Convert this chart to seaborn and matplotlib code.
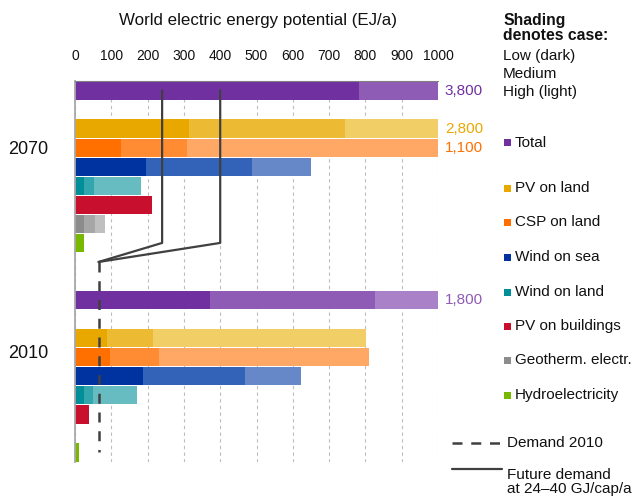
import numpy as np
import pandas as pd
import matplotlib
matplotlib.use("Agg")
import matplotlib.pyplot as plt
import seaborn as sns
from matplotlib.patches import Rectangle
from matplotlib.lines import Line2D

# ---------------- data ----------------
sources = ["Total", "PV on land", "CSP on land", "Wind on sea", "Wind on land",
           "PV on buildings", "Geotherm. electr.", "Hydroelectricity"]
years = ["2070", "2010"]

low_2070 = [782, 315, 128, 195, 25, 211, 25, 25]
medium_2070 = [1900, 745, 308, 487, 52, 211, 55, 25]
high_2070 = [3800, 2800, 1100, 650, 183, 211, 83, 25]

low_2010 = [372, 88, 96, 186, 25, 38, 0, 10]
medium_2010 = [826, 214, 231, 468, 49, 38, 0, 10]
high_2010 = [1800, 803, 809, 623, 170, 38, 0, 10]

demand_2010 = 65
future_demand = [240, 400]

shade_title = "Shading\ndenotes case:"
shade_labels = ["Low (dark)", "Medium", "High (light)"]
line_labels = ["Demand 2010", "Future demand\nat 24\u201340 GJ/cap/a"]
axis_title = "World electric energy potential (EJ/a)"
x_ticks = [0, 100, 200, 300, 400, 500, 600, 700, 800, 900, 1000]

colors_dark = ["#7030A0", "#E8A800", "#FF7000", "#0033A0", "#008F98", "#C8102E", "#8C8C8C", "#78B800"]
colors_mid = ["#8E5BB5", "#EDBB33", "#FF8C33", "#3363B8", "#33A6AD", "#C8102E", "#A6A6A6", "#78B800"]
colors_light = ["#A981C8", "#F2CF66", "#FFA866", "#6688C8", "#66BCC1", "#C8102E", "#BFBFBF", "#78B800"]

# ---------------- build table ----------------
order = []
records = []
group_data = {"2070": (low_2070, medium_2070, high_2070),
              "2010": (low_2010, medium_2010, high_2010)}
for gi, yr in enumerate(years):
    lo, me, hi = group_data[yr]
    for i, s in enumerate(sources):
        key = f"{yr} {s}"
        order.append(key)
        records.append({"row": key, "year": yr, "source": s,
                        "low": lo[i], "medium": me[i], "high": hi[i]})
        if i == 0:
            order.append(f"{yr} gap")
    if gi == 0:
        order += ["between gap 1", "between gap 2"]
df = pd.DataFrame(records)

sns.set_theme(style="white")
plt.rcParams['font.family'] = ['Liberation Sans', 'DejaVu Sans']

fig = plt.figure(figsize=(6.36, 5.0), dpi=100)
ax = fig.add_axes([75 / 636, 1 - 462 / 500, (438 - 75) / 636, (462 - 81) / 500])

for layer, cols in [("high", colors_light), ("medium", colors_mid), ("low", colors_dark)]:
    pal = dict(zip(sources, cols))
    sns.barplot(data=df, x=layer, y="row", hue="source", palette=pal, order=order,
                hue_order=sources, dodge=False, width=0.96, orient="h", errorbar=None,
                legend=False, saturation=1, linewidth=0, ax=ax)

ax.set_xlim(0, 1000)
ax.set_ylim(len(order) - 0.5, -0.5)
ax.set_yticks([])
ax.set_ylabel("")
ax.set_xlabel("")
ax.xaxis.tick_top()
ax.set_xticks(x_ticks)
ax.set_xticklabels([str(t) for t in x_ticks])
ax.tick_params(axis="x", length=0, pad=13, labelsize=10, colors="#111111")
ax.xaxis.grid(True, linestyle=(0, (3, 3)), color="#BDBDBD", linewidth=0.8)
ax.set_axisbelow(True)
for sp in ["right", "bottom"]:
    ax.spines[sp].set_visible(False)
ax.spines["left"].set_color("#A8A8A8")
ax.spines["left"].set_linewidth(1.3)
ax.spines["top"].set_color("#808080")
ax.spines["top"].set_linewidth(0.8)

# values exceeding the axis
for _, r in df.iterrows():
    if r["high"] > 1000:
        y = order.index(r["row"])
        col = colors_dark[sources.index(r["source"])]
        if r["year"] == "2010":
            col = colors_mid[sources.index(r["source"])]
        ax.annotate(f"{r['high']:,}", xy=(1000, y), xytext=(5, 0), textcoords="offset points",
                    ha="left", va="center", fontsize=11, color=col, annotation_clip=False)

# demand lines
y_gap = order.index("between gap 1")
y_hydro_2070 = order.index("2070 Hydroelectricity")
y_total_2070 = order.index("2070 Total")
y_hydro_2010 = order.index("2010 Hydroelectricity")
ax.plot([demand_2010, demand_2010], [y_gap, y_hydro_2010], color="#404040", lw=1.8,
        linestyle=(0, (4, 3.5)))
for fd in future_demand:
    ax.plot([demand_2010, fd, fd], [y_gap, y_hydro_2070, y_total_2070], color="#404040", lw=1.6)

# year labels
for yr, ypos in [("2070", 3.1), ("2010", 13.8)]:
    ax.text(-0.13, ypos, yr, transform=ax.get_yaxis_transform(), ha="center", va="center",
            fontsize=13, color="#111111")

# title
fig.text(258 / 636, 1 - 20 / 500, axis_title, ha="center", va="center", fontsize=12.2, color="#111111")

# legend block
fig.text(503 / 636, 1 - 13 / 500, shade_title, ha="left", va="top", fontsize=11.3,
         fontweight="bold", color="#111111", linespacing=1.0)
for i, lab in enumerate(shade_labels):
    fig.text(503 / 636, 1 - (56 + 18 * i) / 500, lab, ha="left", va="center", fontsize=11,
             color="#111111")

legend_y = [143, 188, 222, 257, 292, 326, 360, 395]
for s, c, yy in zip(sources, colors_dark, legend_y):
    fig.add_artist(Rectangle((504 / 636, 1 - (yy + 3.5) / 500), 7 / 636, 7 / 500,
                             transform=fig.transFigure, color=c, lw=0))
    fig.text(515 / 636, 1 - yy / 500, s, ha="left", va="center", fontsize=11, color="#111111")

fig.add_artist(Line2D([452 / 636, 502 / 636], [1 - 443 / 500, 1 - 443 / 500], transform=fig.transFigure,
                      color="#404040", lw=1.8, linestyle=(0, (4, 3.5))))
fig.text(507 / 636, 1 - 443 / 500, line_labels[0], ha="left", va="center", fontsize=11, color="#111111")
fig.add_artist(Line2D([452 / 636, 502 / 636], [1 - 469 / 500, 1 - 469 / 500], transform=fig.transFigure,
                      color="#404040", lw=1.6))
fig.text(507 / 636, 1 - 468 / 500, line_labels[1], ha="left", va="top", fontsize=11, color="#111111",
         linespacing=1.0)

fig.savefig("out.png", dpi=100, facecolor="white")
